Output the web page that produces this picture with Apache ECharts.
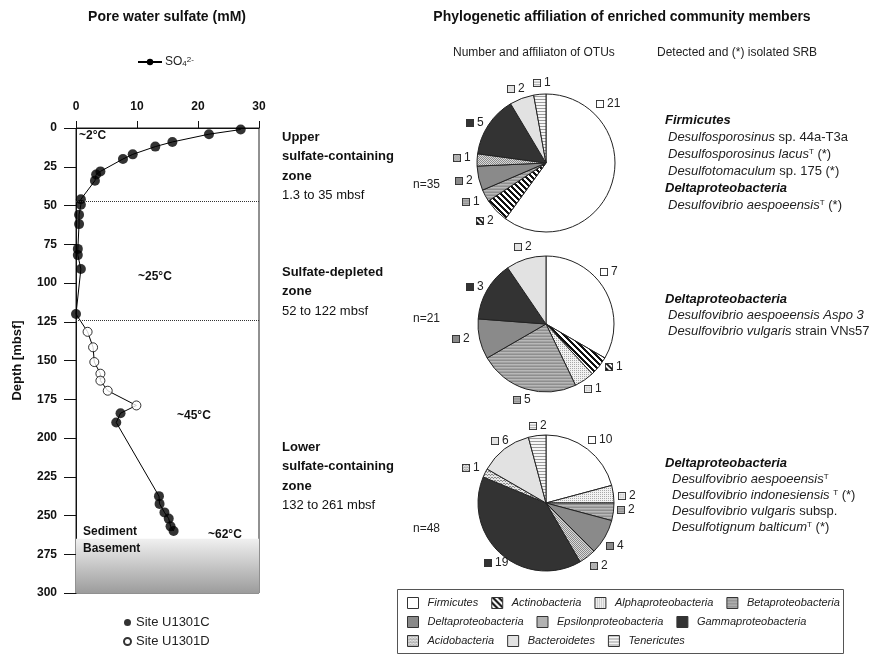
<!DOCTYPE html>
<html><head><meta charset="utf-8">
<script src="https://cdn.jsdelivr.net/npm/echarts@6/dist/echarts.min.js"></script>
<style>html,body{margin:0;padding:0;background:#fff}#c{width:886px;height:664px}</style>
</head><body><div id="c"></div>
<script>
// ================= DATA =================
// Pore water sulfate, Site U1301C (filled) and U1301D (open)
const depthC   = [1, 4, 9, 12, 17, 20, 28, 30, 34, 46, 49.5, 56, 62, 78, 82, 91, 120, 184, 190, 237.5, 242.5, 248, 252, 257, 260];
const sulfateC = [27, 21.8, 15.8, 13, 9.3, 7.7, 4, 3.3, 3.1, 0.8, 0.8, 0.5, 0.5, 0.3, 0.3, 0.8, 0, 7.3, 6.6, 13.6, 13.7, 14.5, 15.2, 15.5, 16];
const depthD   = [131.5, 141.5, 151, 158.5, 163, 169.5, 179];
const sulfateD = [1.9, 2.8, 3.0, 4.0, 4.0, 5.2, 9.9];
const zoneBoundaries = [47, 124];        // dotted lines (mbsf)
const basementTop = 265;                 // sediment / basement (mbsf)

// OTU affiliation
const taxa = ['Firmicutes','Actinobacteria','Alphaproteobacteria','Betaproteobacteria','Deltaproteobacteria',
              'Epsilonproteobacteria','Gammaproteobacteria','Acidobacteria','Bacteroidetes','Tenericutes'];
const upperTaxa    = ['Firmicutes','Actinobacteria','Betaproteobacteria','Deltaproteobacteria','Epsilonproteobacteria','Gammaproteobacteria','Bacteroidetes','Tenericutes'];
const upperOTUs    = [21, 2, 1, 2, 1, 5, 2, 1];
const depletedTaxa = ['Firmicutes','Actinobacteria','Alphaproteobacteria','Betaproteobacteria','Deltaproteobacteria','Gammaproteobacteria','Bacteroidetes'];
const depletedOTUs = [7, 1, 1, 5, 2, 3, 2];
const lowerTaxa    = ['Firmicutes','Alphaproteobacteria','Betaproteobacteria','Deltaproteobacteria','Epsilonproteobacteria','Gammaproteobacteria','Acidobacteria','Bacteroidetes','Tenericutes'];
const lowerOTUs    = [10, 2, 2, 4, 2, 19, 1, 6, 2];
const pieTotals    = ['n=35', 'n=21', 'n=48'];

// Texts
const zoneTexts = [
  ['Upper', 'sulfate-containing', 'zone', '1.3 to 35 mbsf'],
  ['Sulfate-depleted', 'zone', '52 to 122 mbsf'],
  ['Lower', 'sulfate-containing', 'zone', '132 to 261 mbsf']
];
const tempLabels = ['~2°C', '~25°C', '~45°C', '~62°C'];
const srbUpper = [
  '{h|Firmicutes}',
  '{i|Desulfosporosinus} sp. 44a-T3a',
  '{i|Desulfosporosinus lacus}{sup|T} (*)',
  '{i|Desulfotomaculum} sp. 175 (*)',
  '{h|Deltaproteobacteria}',
  '{i|Desulfovibrio aespoeensis}{sup|T} (*)'
];
const srbDepleted = [
  '{h|Deltaproteobacteria}',
  '{i|Desulfovibrio aespoeensis Aspo 3}',
  '{i|Desulfovibrio vulgaris} strain VNs57'
];
const srbLower = [
  '{h|Deltaproteobacteria}',
  '{i|Desulfovibrio aespoeensis}{sup|T}',
  '{i|Desulfovibrio indonesiensis} {sup|T} (*)',
  '{i|Desulfovibrio vulgaris} subsp.',
  '{i|Desulfotignum balticum}{sup|T} (*)'
];

// ================= STYLE / LAYOUT =================
const FONT = "'Liberation Sans', Arial, Helvetica, sans-serif";
function tile(w, h, bg, fg, pix) {
  const c = document.createElement('canvas'); c.width = w; c.height = h;
  const x = c.getContext('2d'); x.fillStyle = bg; x.fillRect(0, 0, w, h);
  x.fillStyle = fg; pix.forEach(p => x.fillRect(p[0], p[1], 1, 1)); return c;
}
function rows(colors) {
  const c = document.createElement('canvas'); c.width = 2; c.height = colors.length;
  const x = c.getContext('2d'); colors.forEach((col, i) => { x.fillStyle = col; x.fillRect(0, i, 2, 1); }); return c;
}
const diag = []; for (let i = 0; i < 6; i++) for (let t = 0; t < 3; t++) diag.push([(i + t) % 6, i]);
const fills = {
  Firmicutes: '#ffffff',
  Actinobacteria: tile(6, 6, '#ffffff', '#111111', diag),
  Alphaproteobacteria: tile(2, 2, '#f2f2f2', '#a8a8a8', [[0, 0]]),
  Betaproteobacteria: rows(['#8e8e8e', '#b8b8b8', '#a2a2a2']),
  Deltaproteobacteria: '#8a8a8a',
  Epsilonproteobacteria: tile(2, 2, '#dadada', '#8a8a8a', [[0, 0], [1, 1]]),
  Gammaproteobacteria: '#333333',
  Acidobacteria: tile(3, 3, '#e6e6e6', '#8a8a8a', [[0, 0], [1, 1], [2, 0]]),
  Bacteroidetes: '#e2e2e2',
  Tenericutes: rows(['#9a9a9a', '#f6f6f6', '#f6f6f6'])
};
function colorOf(name) { const f = fills[name]; return typeof f === 'string' ? f : { image: f, repeat: 'repeat' }; }
function swatch(name) {
  const c = document.createElement('canvas'); c.width = 9; c.height = 9;
  const x = c.getContext('2d'); const f = fills[name];
  x.fillStyle = typeof f === 'string' ? f : x.createPattern(f, 'repeat');
  x.fillRect(0, 0, 9, 9); x.strokeStyle = '#333'; x.lineWidth = 1; x.strokeRect(0.5, 0.5, 8, 8); return c;
}
const pieRich = { n: { fontSize: 12, color: '#222', padding: [0, 0, 0, 3], fontFamily: FONT } };
taxa.forEach((t, i) => { pieRich['s' + i] = { width: 8, height: 8, backgroundColor: { image: swatch(t) } }; });

// label anchor points (swatch left-middle) for each pie
const anchors = [
  [[596,104],[476,221],[462,202],[455,181],[453,158],[466,123],[507,89],[533,83]],
  [[600,272],[605,367],[584,389],[513,400],[452,339],[466,287],[514,247]],
  [[588,440],[618,496],[617,510],[606,546],[590,566],[484,563],[462,468],[491,441],[529,426]]
];
const pieGeom = [{ c: [546, 163], r: 69 }, { c: [546, 324], r: 68 }, { c: [546, 503], r: 68 }];

function pieSeries(k, names, values) {
  return {
    type: 'pie', name: 'pie' + k, center: pieGeom[k].c, radius: pieGeom[k].r,
    startAngle: 90, clockwise: true, avoidLabelOverlap: false, silent: true, animation: false,
    data: names.map((n, i) => ({ name: n, value: values[i], itemStyle: { color: colorOf(n) } })),
    itemStyle: { borderColor: '#222', borderWidth: 1 },
    label: { show: true, position: 'outside', formatter: p => '{s' + taxa.indexOf(p.name) + '|}{n|' + p.value + '}', rich: pieRich },
    labelLine: { show: false },
    labelLayout: p => { const a = anchors[k][p.dataIndex]; return { x: a[0], y: a[1], align: 'left', verticalAlign: 'middle' }; },
    emphasis: { disabled: true }, z: 3
  };
}

// line data, ordered by depth
const pts = depthC.map((d, i) => ({ d, v: sulfateC[i], site: 'C' }))
  .concat(depthD.map((d, i) => ({ d, v: sulfateD[i], site: 'D' })))
  .sort((a, b) => a.d - b.d);

// ---------- graphic texts ----------
const g = [];
function txt(x, y, text, o) {
  g.push({ type: 'text', x, y, z: 50, silent: true, style: Object.assign({ text, fontFamily: FONT, fontSize: 13, fill: '#111', align: 'left', verticalAlign: 'middle' }, o || {}) });
}
txt(167, 17, 'Pore water sulfate (mM)', { fontSize: 14, fontWeight: 'bold', align: 'center' });
txt(622, 17, 'Phylogenetic affiliation of enriched community members', { fontSize: 14, fontWeight: 'bold', align: 'center' });
txt(453, 53, 'Number and affiliaton of OTUs', { fontSize: 12, fill: '#222' });
txt(657, 53, 'Detected and (*) isolated SRB', { fontSize: 12, fill: '#222' });

const zoneY = [137, 272, 447];
zoneTexts.forEach((lines, k) => {
  lines.forEach((l, j) => {
    const last = j === lines.length - 1;
    txt(282, zoneY[k] + j * 19.5, l, { fontWeight: last ? 'normal' : 'bold', fontSize: 13 });
  });
});
const tempPos = [[79, 136], [138, 277], [177, 416], [208, 535]];
tempLabels.forEach((t, i) => txt(tempPos[i][0], tempPos[i][1], t, { fontWeight: 'bold', fontSize: 12 }));
txt(83, 532, 'Sediment', { fontWeight: 'bold', fontSize: 12 });
txt(83, 549, 'Basement', { fontWeight: 'bold', fontSize: 12 });
const nY = [185, 319, 529];
pieTotals.forEach((t, i) => txt(413, nY[i], t, { fontSize: 12, fill: '#222' }));

const srbRich = {
  h: { fontWeight: 'bold', fontStyle: 'italic', fontSize: 13, fontFamily: FONT, fill: '#111' },
  i: { fontStyle: 'italic', fontSize: 13, fontFamily: FONT, fill: '#222' },
  sup: { fontSize: 8, fontFamily: FONT, fill: '#222', verticalAlign: 'top', lineHeight: 8, padding: [0, 0, 6, 0] }
};
function srbBlock(lines, y0, dy, sx) {
  lines.forEach((l, j) => {
    const isH = l.indexOf('{h|') === 0;
    txt(isH ? 665 : sx, y0 + j * dy, l, { rich: srbRich, fill: '#222', fontSize: 13 });
  });
}
srbBlock(srbUpper, 120, 17, 668);
srbBlock(srbDepleted, 299, 16, 668);
srbBlock(srbLower, 463, 16, 672);

g.push({ type: 'rect', silent: true, shape: { x: 397.5, y: 589.5, width: 446, height: 64 }, style: { fill: 'none', stroke: '#555', lineWidth: 1 }, z: 0 });

// ---------- legends ----------
const rowLegend = (names, top) => ({
  data: names, left: 407, top, padding: 0, orient: 'horizontal', selectedMode: false,
  icon: 'rect', itemWidth: 11, itemHeight: 11, itemGap: 13,
  itemStyle: { borderColor: '#333', borderWidth: 1 },
  textStyle: { fontStyle: 'italic', fontSize: 11, color: '#222', fontFamily: FONT, padding: [0, 0, 0, 4] }
});

const option = {
  animation: false,
  textStyle: { fontFamily: FONT },
  grid: { left: 76, top: 128, width: 183, height: 465, show: true, borderColor: '#222', borderWidth: 1, backgroundColor: 'transparent' },
  xAxis: {
    type: 'value', position: 'top', min: 0, max: 30, interval: 10,
    axisLine: { show: true, lineStyle: { color: '#111' } },
    axisTick: { show: true, length: 7, lineStyle: { color: '#111' } },
    axisLabel: { fontWeight: 'bold', fontSize: 12, color: '#111', margin: 15 },
    splitLine: { show: false }
  },
  yAxis: {
    type: 'value', inverse: true, min: 0, max: 300, interval: 25,
    name: 'Depth [mbsf]', nameLocation: 'middle', nameGap: 52,
    nameTextStyle: { fontWeight: 'bold', fontSize: 13, color: '#111' },
    axisLine: { show: true, lineStyle: { color: '#111' } },
    axisTick: { show: true, length: 12, lineStyle: { color: '#111' } },
    axisLabel: { fontWeight: 'bold', fontSize: 12, color: '#111', margin: 19 },
    splitLine: { show: false }
  },
  legend: [
    { data: ['SO4'], left: 137, top: 54, padding: 0, selectedMode: false, itemWidth: 24, itemHeight: 8, itemGap: 4,
      formatter: () => 'SO{sub|4}{sup|2-}',
      textStyle: { fontSize: 12, color: '#222', padding: [0, 0, 0, -2],
        rich: { sub: { fontSize: 8, verticalAlign: 'bottom', lineHeight: 8, padding: [6, 0, 0, 0] },
                sup: { fontSize: 8, verticalAlign: 'top', lineHeight: 8, padding: [0, 0, 6, 0] } } } },
    { data: ['Site U1301C', 'Site U1301D'], left: 123, top: 616, padding: 0, orient: 'vertical', selectedMode: false,
      icon: 'circle', itemWidth: 7, itemHeight: 7, itemGap: 6,
      textStyle: { fontSize: 13, color: '#222' } },
    rowLegend(['Firmicutes', 'Actinobacteria', 'Alphaproteobacteria', 'Betaproteobacteria'], 597),
    rowLegend(['Deltaproteobacteria', 'Epsilonproteobacteria', 'Gammaproteobacteria'], 616),
    rowLegend(['Acidobacteria', 'Bacteroidetes', 'Tenericutes'], 635)
  ],
  graphic: g,
  series: [
    {
      type: 'line', name: 'SO4', data: pts.map(p => [p.v, p.d]),
      symbol: 'circle', symbolSize: 8, showSymbol: false,
      itemStyle: { color: '#000' }, lineStyle: { color: '#000', width: 1 },
      silent: true, z: 2,
      markArea: { silent: true, itemStyle: { color: { type: 'linear', x: 0, y: 0, x2: 0, y2: 1,
          colorStops: [{ offset: 0, color: '#f0f0f0' }, { offset: 1, color: '#9c9c9c' }] } },
        data: [[{ yAxis: basementTop }, { yAxis: 300 }]] },
      markLine: { silent: true, symbol: 'none', label: { show: false },
        lineStyle: { type: 'dotted', color: '#333', width: 1 },
        data: zoneBoundaries.map(v => ({ yAxis: v })) }
    },
    { type: 'scatter', name: 'Site U1301C', data: depthC.map((d, i) => [sulfateC[i], d]),
      symbol: 'circle', symbolSize: 10, itemStyle: { color: '#000' }, silent: true, z: 4 },
    { type: 'scatter', name: 'Site U1301D', data: depthD.map((d, i) => [sulfateD[i], d]),
      symbol: 'circle', symbolSize: 9, itemStyle: { color: '#fff', borderColor: '#000', borderWidth: 1 }, silent: true, z: 4 },
    pieSeries(0, upperTaxa, upperOTUs),
    pieSeries(1, depletedTaxa, depletedOTUs),
    pieSeries(2, lowerTaxa, lowerOTUs)
  ]
};
const chart = echarts.init(document.getElementById('c'));
chart.setOption(option);
</script></body></html>
